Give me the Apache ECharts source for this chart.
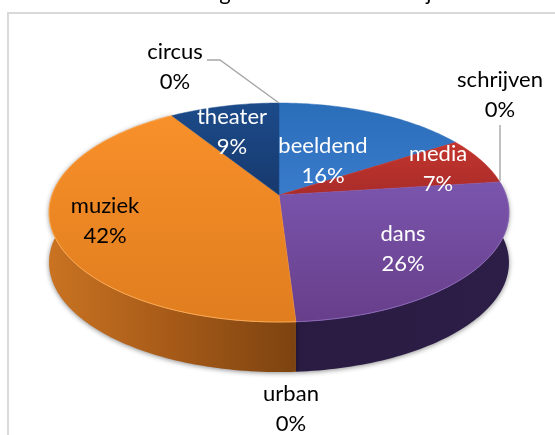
<!DOCTYPE html>
<html>
<head>
<meta charset="utf-8">
<style>html,body{margin:0;padding:0;background:#fff}#c{width:555px;height:435px}</style>
<script src="https://cdn.jsdelivr.net/npm/echarts@6/dist/echarts.min.js"></script>
</head>
<body>
<div id="c"></div>
<script>
// Data
const categories = ['circus', 'beeldend', 'media', 'schrijven', 'dans', 'urban', 'muziek', 'theater'];
const values = [0, 16, 7, 0, 26, 0, 42, 9];

// Styling
const topColors = {
  beeldend: ['#2a6db8', '#3a7ccc'], media: ['#c4352d', '#a92c2a'],
  dans: ['#7a55ad', '#673e8a'], muziek: ['#f8902a', '#e07d1e'], theater: ['#1c4b8a', '#17396d']
};
const wallColors = { dans: ['#2a1b42', '#2d1e48'], muziek: ['#c97322', '#a65a18', '#7c4310'] };
const rimColors = { dans: 'rgba(150,115,195,0.6)', muziek: 'rgba(255,180,100,0.7)' };
const labelColors = { beeldend: '#fff', media: '#fff', dans: '#fff', theater: '#fff' };
const labelCentres = {
  circus: [175, 67], beeldend: [323, 161], media: [438, 169], schrijven: [500, 95],
  dans: [403, 249], urban: [291, 409], muziek: [105, 221], theater: [232, 132]
};
const leaders = {
  circus: [[207, 60], [220, 60], [279, 103]],
  schrijven: [[500, 125], [500, 181]]
};

// Tilted-disc projection of the pie
const CX = 279, CY = 195, R = 227, A = 106.7, K = 0.16, DEPTH = 50;
function project(frac) {
  const t = frac * 2 * Math.PI, x = Math.sin(t), y = -Math.cos(t), w = 1 - K * y;
  return [CX + R * x / w, CY + A * y / w];
}
const total = values.reduce((a, b) => a + b, 0);
function arc(idx) {
  let start = 0;
  for (let i = 0; i < idx; i++) start += values[i];
  const pts = [], n = Math.max(2, Math.ceil(values[idx] * 3));
  for (let i = 0; i <= n; i++) pts.push(project((start + values[idx] * i / n) / total));
  return pts;
}
function grad(c, horizontal) {
  return new echarts.graphic.LinearGradient(0, 0, horizontal ? 1 : 0, horizontal ? 0 : 1,
    c.map((color, i) => ({ offset: i / (c.length - 1), color })));
}
const dataItems = categories.map((name, i) => ({ name, value: values[i] }));

const option = {
  animation: false,
  backgroundColor: '#fff',
  graphic: [
    { type: 'polyline', silent: true, shape: { points: [[8, 435], [8, 13], [555, 13]] },
      style: { stroke: '#d9d9d9', lineWidth: 2, fill: null } },
    { type: 'text', silent: true, style: { text: 'g', x: 225, y: 4, align: 'center', verticalAlign: 'bottom', font: '22px Lato', fill: '#000' } },
    { type: 'text', silent: true, style: { text: 'j', x: 429, y: 4, align: 'center', verticalAlign: 'bottom', font: '22px Lato', fill: '#000' } }
  ],
  series: [
    { // side walls
      type: 'custom', coordinateSystem: 'none', z: 1, silent: true, data: dataItems,
      renderItem(p) {
        const name = categories[p.dataIndex];
        if (!wallColors[name]) return { type: 'group', children: [] };
        const top = arc(p.dataIndex);
        const bottom = top.map(q => [q[0], q[1] + DEPTH]).reverse();
        return { type: 'polygon', shape: { points: top.concat(bottom) },
          style: { fill: grad(wallColors[name], true), shadowBlur: 5, shadowOffsetY: 1, shadowColor: 'rgba(0,0,0,0.45)' } };
      }
    },
    { // top faces
      type: 'custom', coordinateSystem: 'none', z: 2, silent: true, data: dataItems,
      renderItem(p) {
        const name = categories[p.dataIndex];
        if (!values[p.dataIndex]) return { type: 'group', children: [] };
        const rim = arc(p.dataIndex);
        const kids = [{ type: 'polygon', shape: { points: [[CX, CY]].concat(rim) },
          style: { fill: grad(topColors[name], false), stroke: topColors[name][0], lineWidth: 0.5 } }];
        if (rimColors[name]) kids.push({ type: 'polyline', shape: { points: rim },
          style: { stroke: rimColors[name], lineWidth: 1, fill: null } });
        return { type: 'group', children: kids };
      }
    },
    { // labels and leader lines
      type: 'custom', coordinateSystem: 'none', z: 3, silent: true, data: dataItems,
      renderItem(p) {
        const name = categories[p.dataIndex], c = labelCentres[name];
        const kids = [{ type: 'text', style: {
          text: name + '\n' + values[p.dataIndex] + '%', x: c[0], y: c[1],
          align: 'center', verticalAlign: 'middle', lineHeight: 30,
          font: '22px Lato', fill: labelColors[name] || '#000' } }];
        if (leaders[name]) kids.push({ type: 'polyline', shape: { points: leaders[name] },
          style: { stroke: '#a6a6a6', lineWidth: 1.4, fill: null } });
        return { type: 'group', children: kids };
      }
    }
  ]
};
echarts.init(document.getElementById('c'), null, { renderer: 'canvas' }).setOption(option);
</script>
</body>
</html>
